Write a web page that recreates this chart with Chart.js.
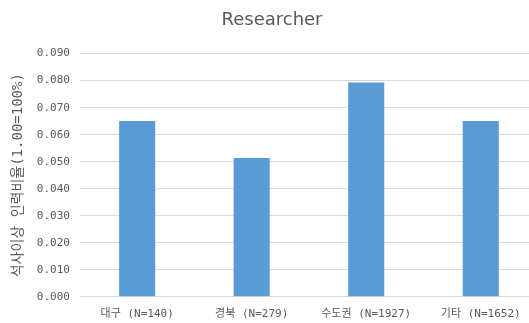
<!DOCTYPE html>
<html>
<head>
<meta charset="utf-8">
<script src="https://cdn.jsdelivr.net/npm/chart.js@4"></script>
<style>
  html, body { margin: 0; padding: 0; background: #fff; overflow: hidden; }
  #wrap { width: 538px; height: 323px; position: relative; }
</style>
</head>
<body>
<div id="wrap"><canvas id="c"></canvas></div>
<script>
// Regions and their share of staff with a master's degree or higher
const categories = ['대구 (N=140)', '경북 (N=279)', '수도권 (N=1927)', '기타 (N=1652)'];
const ratios = [0.0651, 0.0514, 0.0793, 0.0651];
const yTicks = [0, 0.01, 0.02, 0.03, 0.04, 0.05, 0.06, 0.07, 0.08, 0.09];

const FONT = "'DejaVu Sans Mono', 'Noto Sans CJK KR', monospace";
const GREY = '#595959';

new Chart(document.getElementById('c'), {
  type: 'bar',
  data: {
    labels: categories,
    datasets: [{
      data: ratios,
      backgroundColor: '#5B9BD5',
      borderWidth: 0,
      barPercentage: 0.315,
      categoryPercentage: 1.0
    }]
  },
  options: {
    responsive: true,
    maintainAspectRatio: false,
    animation: false,
    layout: { padding: { left: 6, right: 0, top: 10, bottom: -1 } },
    plugins: {
      legend: { display: false },
      tooltip: { enabled: false },
      title: {
        display: true,
        text: 'Researcher',
        color: GREY,
        font: { family: "'DejaVu Sans', sans-serif", size: 18, weight: 'normal' },
        padding: { top: 0, bottom: 22 }
      }
    },
    scales: {
      x: {
        grid: { display: false },
        border: { display: false },
        ticks: {
          color: GREY,
          font: { family: FONT, size: 11 },
          padding: 3,
          maxRotation: 0,
          autoSkip: false
        }
      },
      y: {
        min: 0,
        max: 0.09,
        afterBuildTicks: (axis) => { axis.ticks = yTicks.map(v => ({ value: v })); },
        grid: { color: '#d9d9d9', lineWidth: 1, drawTicks: false },
        border: { display: false },
        ticks: {
          color: GREY,
          font: { family: FONT, size: 11 },
          padding: 10,
          callback: (v) => Number(v).toFixed(3)
        },
        title: {
          display: true,
          text: '석사이상 인력비율(1.00=100%)',
          color: GREY,
          font: { family: FONT, size: 14 },
          padding: { top: 4, bottom: 0 }
        }
      }
    }
  }
});
</script>
</body>
</html>
